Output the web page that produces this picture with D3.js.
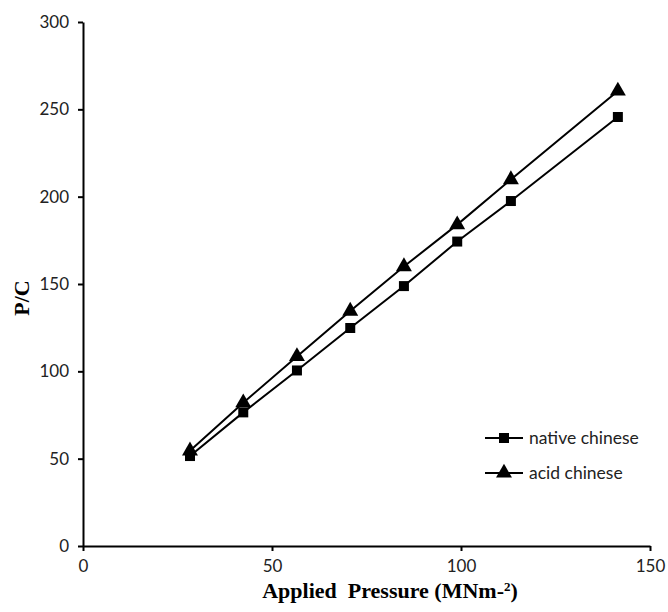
<!DOCTYPE html>
<html>
<head>
<meta charset="utf-8">
<script src="https://cdn.jsdelivr.net/npm/d3@7"></script>
<style>
  body { margin: 0; background: #fff; }
  svg { display: block; }
</style>
</head>
<body>
<script>
  // chart values
  const pressure = [28.3, 42.4, 56.6, 70.7, 84.9, 99.0, 113.2, 141.5];
  const nativeChinese = [51.5, 76.5, 100.5, 124.8, 148.8, 174.3, 197.5, 245.6];
  const acidChinese = [54.5, 82, 108.5, 134.5, 160, 184, 209.8, 260.5];
  const xTicks = [0, 50, 100, 150];
  const yTicks = [0, 50, 100, 150, 200, 250, 300];

  const width = 668;
  const height = 612;
  const margin = { top: 22, right: 18, bottom: 66, left: 83 };

  const svg = d3.select("body").append("svg")
    .attr("width", width)
    .attr("height", height);

  const x = d3.scaleLinear().domain([0, 150]).range([margin.left, width - margin.right]);
  const y = d3.scaleLinear().domain([0, 300]).range([height - margin.bottom, margin.top]);

  // axes
  const xAxis = svg.append("g")
    .attr("transform", `translate(0,${y(0)})`)
    .call(d3.axisBottom(x).tickValues(xTicks).tickSize(5).tickSizeOuter(0).tickPadding(9));
  const yAxis = svg.append("g")
    .attr("transform", `translate(${x(0)},0)`)
    .call(d3.axisLeft(y).tickValues(yTicks).tickSize(5).tickSizeOuter(0).tickPadding(9));

  [xAxis, yAxis].forEach((g) => {
    g.select(".domain").attr("stroke", "#000").attr("stroke-width", 2);
    g.selectAll(".tick line").attr("stroke", "#000").attr("stroke-width", 2);
    g.selectAll(".tick text")
      .attr("fill", "#222")
      .style("font-family", "Lato, 'Open Sans', sans-serif")
      .style("font-size", "17px");
  });

  // series
  const series = [
    { name: "native chinese", values: nativeChinese, symbol: d3.symbolSquare },
    { name: "acid chinese", values: acidChinese, symbol: d3.symbolTriangle }
  ];

  const line = d3.line().x((d) => x(d[0])).y((d) => y(d[1]));

  series.forEach((s) => {
    const pts = pressure.map((p, i) => [p, s.values[i]]);
    svg.append("path")
      .datum(pts)
      .attr("fill", "none")
      .attr("stroke", "#000")
      .attr("stroke-width", 2)
      .attr("d", line);

    svg.append("g").selectAll("path")
      .data(pts)
      .join("path")
      .attr("transform", (d) => `translate(${x(d[0])},${y(d[1])})`)
      .attr("d", d3.symbol(s.symbol, s.symbol === d3.symbolSquare ? 100 : 110))
      .attr("fill", "#000");
  });

  // legend
  const legend = svg.append("g").attr("transform", "translate(485,438)");
  series.forEach((s, i) => {
    const row = legend.append("g").attr("transform", `translate(0,${i * 35})`);
    row.append("line")
      .attr("x1", 0).attr("x2", 38)
      .attr("stroke", "#000").attr("stroke-width", 2);
    row.append("path")
      .attr("transform", "translate(19,0)")
      .attr("d", d3.symbol(s.symbol, s.symbol === d3.symbolSquare ? 100 : 110))
      .attr("fill", "#000");
    row.append("text")
      .attr("x", 44).attr("dy", "0.35em")
      .attr("fill", "#222")
      .style("font-family", "Lato, 'Open Sans', sans-serif")
      .style("font-size", "17.5px")
      .text(s.name);
  });

  // axis titles
  svg.append("text")
    .attr("x", 390).attr("y", 598)
    .attr("text-anchor", "middle")
    .style("font-family", "'Liberation Serif', 'Times New Roman', serif")
    .style("font-weight", "bold")
    .style("font-size", "22px")
    .html("Applied&#160; Pressure (MNm-<tspan dy='-7' font-size='13px'>2</tspan><tspan dy='7'>)</tspan>");

  svg.append("text")
    .attr("transform", `translate(29,${(y(0) + y(300)) / 2 + 14}) rotate(-90)`)
    .attr("text-anchor", "middle")
    .style("font-family", "'Liberation Serif', 'Times New Roman', serif")
    .style("font-weight", "bold")
    .style("font-size", "22px")
    .text("P/C");
</script>
</body>
</html>
